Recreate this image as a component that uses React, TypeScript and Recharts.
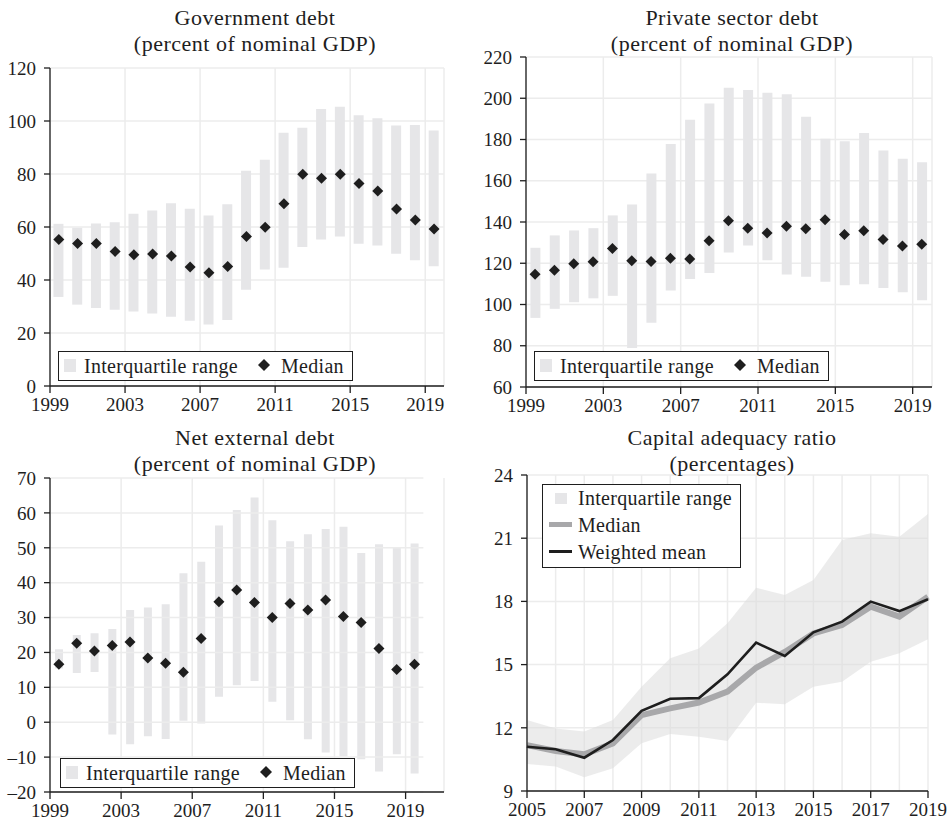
import React from 'react'
import { ComposedChart, Bar, Scatter, Line, Area, XAxis, YAxis, CartesianGrid, ReferenceLine } from 'recharts'

// years of the three debt panels
const years = [1999, 2000, 2001, 2002, 2003, 2004, 2005, 2006, 2007, 2008, 2009, 2010, 2011, 2012, 2013, 2014, 2015, 2016, 2017, 2018, 2019]
const debtTicks = [1999, 2003, 2007, 2011, 2015, 2019]

// government debt, percent of nominal GDP
const govMedian = [55.3, 53.8, 53.8, 50.8, 49.5, 49.8, 49.1, 44.9, 42.7, 45.1, 56.4, 59.9, 68.8, 79.9, 78.4, 79.9, 76.4, 73.6, 66.8, 62.6, 59.2]
const govLow = [33.6, 30.7, 29.4, 28.8, 28.1, 27.4, 26.1, 24.6, 23.2, 24.9, 36.3, 44.0, 44.6, 52.5, 55.3, 56.4, 53.7, 53.0, 49.9, 47.5, 45.2]
const govHigh = [61.2, 59.7, 61.3, 61.8, 65.0, 66.2, 69.0, 66.9, 64.3, 68.6, 81.2, 85.4, 95.6, 97.5, 104.5, 105.4, 102.2, 101.0, 98.3, 98.5, 96.4]

// private sector debt
const privMedian = [114.7, 116.6, 119.7, 120.7, 127.1, 121.2, 120.8, 122.4, 122.1, 130.9, 140.6, 137.0, 134.7, 138.0, 136.7, 141.1, 133.9, 135.7, 131.5, 128.4, 129.2]
const privLow = [93.5, 97.9, 101.1, 103.0, 104.2, 78.9, 91.1, 106.8, 112.4, 115.3, 125.2, 128.6, 121.5, 114.5, 113.4, 111.0, 109.3, 109.8, 108.0, 105.9, 102.1]
const privHigh = [127.5, 133.5, 135.9, 137.0, 143.2, 148.5, 163.5, 177.8, 189.6, 197.4, 205.1, 204.0, 202.7, 202.0, 191.0, 180.4, 179.2, 183.1, 174.7, 170.7, 169.0]

// net external debt
const extMedian = [16.6, 22.6, 20.4, 22.0, 23.0, 18.4, 16.9, 14.3, 24.0, 34.5, 37.9, 34.3, 30.0, 34.0, 32.2, 35.0, 30.3, 28.6, 21.1, 15.1, 16.6]
const extLow = [15.4, 14.1, 14.4, -3.5, -6.3, -4.0, -4.8, 0.4, -0.4, 7.3, 10.6, 11.8, 5.9, 0.6, -4.9, -8.7, -9.8, -10.6, -14.1, -9.2, -14.7]
const extHigh = [20.9, 25.0, 25.5, 26.7, 32.2, 32.9, 33.8, 42.7, 46.0, 56.4, 60.8, 64.4, 57.9, 51.9, 53.9, 55.4, 56.0, 48.5, 51.0, 50.1, 51.2]

// capital adequacy ratio
const capYears = [2005, 2006, 2007, 2008, 2009, 2010, 2011, 2012, 2013, 2014, 2015, 2016, 2017, 2018, 2019]
const capTicks = [2005, 2007, 2009, 2011, 2013, 2015, 2017, 2019]
const capMean = [11.1, 10.98, 10.58, 11.42, 12.81, 13.38, 13.41, 14.54, 16.04, 15.41, 16.53, 17.04, 17.99, 17.54, 18.1]
const capMedian = [11.18, 10.9, 10.74, 11.26, 12.6, 12.92, 13.2, 13.72, 14.85, 15.6, 16.48, 16.88, 17.75, 17.28, 18.22]
const capLow = [10.28, 10.16, 9.65, 10.08, 11.27, 11.71, 11.58, 11.37, 13.19, 13.12, 13.95, 14.19, 15.14, 15.54, 16.2]
const capHigh = [12.37, 11.97, 11.82, 12.37, 13.95, 15.3, 15.77, 16.96, 18.65, 18.3, 19.02, 20.91, 21.23, 21.07, 22.15]

const FONT = '"Liberation Serif", "Times New Roman", serif'
const INK = '#1e1e1e'
const GRID = '#ececec'
const IQR = '#e6e6e8'

const tickStyle = { fill: INK, fontSize: 19, fontFamily: FONT }

const Diamond = (props: any) => {
    const { cx, cy } = props
    const r = 5.5
    return <polygon points={`${cx},${cy - r} ${cx + r},${cy} ${cx},${cy + r} ${cx - r},${cy}`} fill={INK} />
}

const dash = (v: number) => (v < 0 ? `\u2013${-v}` : `${v}`)

const Title = ({ x, y, lines }: { x: number; y: number; lines: string[] }) => (
    <div style={{
        position: 'absolute', left: x - 220, top: y, width: 440, textAlign: 'center',
        fontFamily: FONT, fontSize: 22, letterSpacing: 0.5, lineHeight: '26px', color: INK,
    }}>
        {lines.map((l) => <div key={l}>{l}</div>)}
    </div>
)

const DebtLegend = ({ left, top }: { left: number; top: number }) => (
    <div style={{
        position: 'absolute', left, top, width: 295, height: 30, boxSizing: 'border-box',
        border: `1.3px solid ${INK}`, background: '#fff', fontFamily: FONT, fontSize: 20,
        letterSpacing: 0.3, color: INK,
    }}>
        <div style={{ position: 'absolute', left: 5, top: 7, width: 12, height: 13, background: IQR }} />
        <div style={{ position: 'absolute', left: 25, top: 2, lineHeight: '24px' }}>Interquartile range</div>
        <svg style={{ position: 'absolute', left: 199, top: 7 }} width={12} height={12}>
            <polygon points="6,0 12,6 6,12 0,6" fill={INK} />
        </svg>
        <div style={{ position: 'absolute', left: 222, top: 2, lineHeight: '24px' }}>Median</div>
    </div>
)

const DebtPanel = ({ left, top, width, height, margin, low, high, median, domain, yTicks, xMax, offset, barSize, gridTo }: any) => {
    const rows = years.map((y, i) => ({ x: y + offset, range: [low[i], high[i]], median: median[i] }))
    return (
        <div style={{ position: 'absolute', left, top }}>
            <ComposedChart width={width} height={height} data={rows} margin={margin}>
                <CartesianGrid stroke={GRID} strokeWidth={1.5} horizontal={!gridTo} />
                {gridTo && yTicks.map((v: number) => (
                    <ReferenceLine key={v} segment={[{ x: 1999, y: v }, { x: gridTo, y: v }]} stroke={GRID} strokeWidth={1.5} />
                ))}
                <XAxis dataKey="x" type="number" domain={[1999, xMax]} ticks={debtTicks} interval={0}
                    allowDataOverflow tick={tickStyle} tickSize={7} tickMargin={5} height={30}
                    axisLine={{ stroke: INK, strokeWidth: 1.3 }} tickLine={{ stroke: INK, strokeWidth: 1.3 }} />
                <YAxis type="number" domain={domain} ticks={yTicks} interval={0} tickFormatter={dash}
                    tick={tickStyle} tickSize={6} tickMargin={8} width={45}
                    axisLine={{ stroke: INK, strokeWidth: 1.3 }} tickLine={{ stroke: INK, strokeWidth: 1.3 }} />
                <Bar dataKey="range" barSize={barSize} fill={IQR} isAnimationActive={false} />
                <Scatter dataKey="median" shape={<Diamond />} isAnimationActive={false} />
            </ComposedChart>
        </div>
    )
}

const CapitalPanel = () => {
    const rows = capYears.map((y, i) => ({ x: y, band: [capLow[i], capHigh[i]], median: capMedian[i], mean: capMean[i] }))
    return (
        <div style={{ position: 'absolute', left: 475, top: 410 }}>
            <ComposedChart width={475} height={413} data={rows} margin={{ top: 65, right: 22, left: 7, bottom: 2 }}>
                <CartesianGrid stroke={GRID} strokeWidth={1.5} verticalValues={capYears} />
                <XAxis dataKey="x" type="number" domain={[2005, 2019]} ticks={capTicks} interval={0}
                    tick={tickStyle} tickSize={7} tickMargin={5} height={30}
                    axisLine={{ stroke: INK, strokeWidth: 1.3 }} tickLine={{ stroke: INK, strokeWidth: 1.3 }} />
                <YAxis type="number" domain={[9, 24]} ticks={[9, 12, 15, 18, 21, 24]} interval={0}
                    tick={tickStyle} tickSize={6} tickMargin={8} width={45}
                    axisLine={{ stroke: INK, strokeWidth: 1.3 }} tickLine={{ stroke: INK, strokeWidth: 1.3 }} />
                <Area dataKey="band" type="linear" stroke="none" fill="#dcdcdc" fillOpacity={0.55} isAnimationActive={false} />
                <Line dataKey="median" type="linear" stroke="#a8a8aa" strokeWidth={6} dot={false} isAnimationActive={false} />
                <Line dataKey="mean" type="linear" stroke={INK} strokeWidth={2.6} dot={false} isAnimationActive={false} />
            </ComposedChart>
        </div>
    )
}

const CapitalLegend = () => (
    <div style={{
        position: 'absolute', left: 542, top: 484, width: 199, height: 84, boxSizing: 'border-box',
        border: `1.3px solid ${INK}`, background: '#fff', fontFamily: FONT, fontSize: 20,
        letterSpacing: 0.3, color: INK,
    }}>
        <div style={{ position: 'absolute', left: 12, top: 8, width: 12, height: 11, background: IQR }} />
        <div style={{ position: 'absolute', left: 35, top: 1, lineHeight: '24px' }}>Interquartile range</div>
        <div style={{ position: 'absolute', left: 6, top: 37, width: 23, height: 5, background: '#a8a8aa' }} />
        <div style={{ position: 'absolute', left: 35, top: 28, lineHeight: '24px' }}>Median</div>
        <div style={{ position: 'absolute', left: 6, top: 65, width: 23, height: 2.6, background: INK }} />
        <div style={{ position: 'absolute', left: 35, top: 55, lineHeight: '24px' }}>Weighted mean</div>
    </div>
)

export default function App() {
    return (
        <div style={{ position: 'absolute', left: 0, top: 0, width: 950, height: 823, background: '#fff', overflow: 'hidden' }}>
            <DebtPanel left={0} top={0} width={460} height={420} margin={{ top: 68, right: 16, left: 5, bottom: 4 }}
                low={govLow} high={govHigh} median={govMedian} domain={[0, 120]} yTicks={[0, 20, 40, 60, 80, 100, 120]}
                xMax={2020} offset={0.47} barSize={10} />
            <DebtPanel left={475} top={0} width={475} height={420} margin={{ top: 57, right: 18, left: 6, bottom: 3 }}
                low={privLow} high={privHigh} median={privMedian} domain={[60, 220]} yTicks={[60, 80, 100, 120, 140, 160, 180, 200, 220]}
                xMax={2020} offset={0.47} barSize={10} />
            <DebtPanel left={0} top={410} width={460} height={413} margin={{ top: 68, right: 16, left: 5, bottom: 1 }}
                low={extLow} high={extHigh} median={extMedian} domain={[-20, 70]} yTicks={[-20, -10, 0, 10, 20, 30, 40, 50, 60, 70]}
                xMax={2021.16} offset={0.5} barSize={8} gridTo={2020} />
            <CapitalPanel />
            <Title x={255} y={5} lines={['Government debt', '(percent of nominal GDP)']} />
            <Title x={732} y={5} lines={['Private sector debt', '(percent of nominal GDP)']} />
            <Title x={255} y={425} lines={['Net external debt', '(percent of nominal GDP)']} />
            <Title x={732} y={425} lines={['Capital adequacy ratio', '(percentages)']} />
            <DebtLegend left={58} top={351} />
            <DebtLegend left={534} top={351} />
            <DebtLegend left={60} top={758} />
            <CapitalLegend />
        </div>
    )
}
